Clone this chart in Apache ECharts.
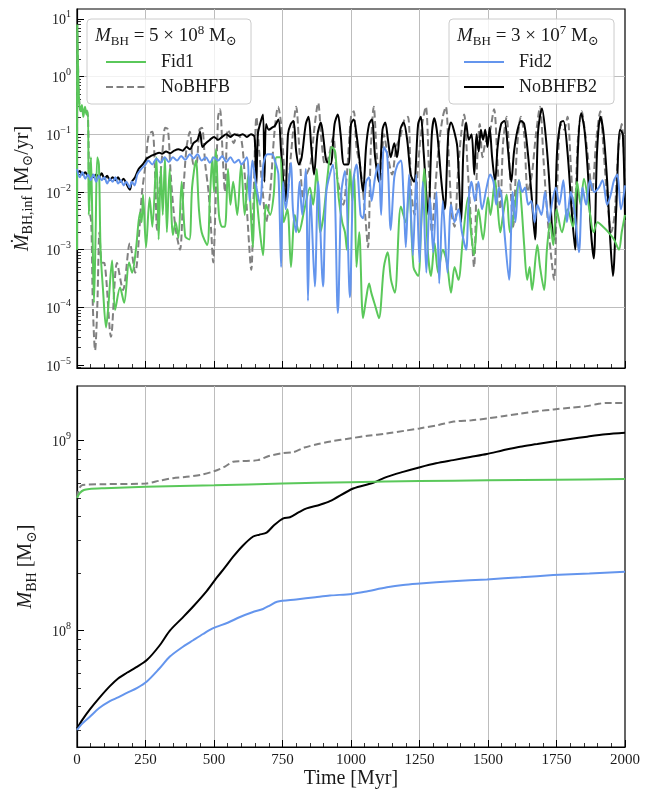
<!DOCTYPE html>
<html>
<head>
<meta charset="utf-8">
<script src="https://cdn.jsdelivr.net/npm/echarts@6/dist/echarts.min.js"></script>
<style>
  html, body { margin: 0; padding: 0; background: #ffffff; }
  #chart { width: 653px; height: 792px; }
</style>
</head>
<body>
<div id="chart"></div>
<script>
// Accretion rate onto the black hole [Msun/yr] versus time [Myr], as [time, rate].
const fid1Rate = [
  [0,1e-3],[1,8],[4,1.2],[8,0.35],[13,0.25],[18,0.32],[23,0.2],[29,0.3],[35,0.22],[40,0.25],
  [43,4e-3],[47,1e-2],[51,4e-2],[56,3e-3],[62,1.2e-4],[68,2e-3],[74,4e-2],[80,3e-2],[86,1e-3],
  [95,2e-4],[106,4.5e-5],[114,1e-4],[128,6.5e-4],[139,9e-5],[157,2.2e-4],[172,1.2e-4],[190,6e-4],
  [201,4e-4],[215,1e-3],[230,4.4e-3],[236,3e-3],[241,9e-3],[252,1.1e-3],[265,8e-3],[275,2.5e-3],
  [290,4e-2],[298,1.5e-3],[306,2.7e-2],[313,4e-3],[321,4e-2],[328,2e-3],[338,2.5e-2],[350,1.8e-3],
  [360,3e-3],[370,1.6e-3],[382,1.5e-2],[395,1.7e-3],[410,1.5e-3],[420,1.2e-2],[434,3.5e-2],
  [445,5e-3],[455,2e-3],[475,1.2e-3],[485,8e-3],[494,4e-2],[500,1e-2],[507,5.5e-2],[518,4e-3],
  [530,2.5e-3],[540,2.5e-3],[551,2.5e-2],[560,6e-3],[570,1.5e-2],[585,4e-3],[599,3e-2],[612,4e-3],
  [625,2e-2],[642,1.1e-3],[650,1.5e-2],[664,3e-3],[679,8e-4],[690,6e-3],[705,4e-3],[718,9e-3],
  [728,4e-2],[741,4e-2],[755,3e-3],[768,5e-3],[781,5e-4],[795,4e-3],[810,2e-3],[830,5e-3],
  [850,1.2e-2],[862,6e-3],[875,2.5e-2],[888,2e-3],[900,4e-3],[915,2e-2],[930,6e-2],[942,5e-2],
  [955,8e-3],[968,3e-3],[978,2e-3],[985,1e-3],[996,2.5e-2],[1005,7e-3],[1012,2e-2],[1020,5e-4],
  [1030,2e-3],[1044,6.5e-5],[1056,1.5e-4],[1066,2.6e-4],[1074,1.8e-4],[1090,1e-4],[1102,6.5e-5],
  [1120,5e-4],[1134,9e-4],[1146,3e-4],[1160,1.8e-4],[1182,5.6e-3],[1200,3e-3],[1212,1.2e-2],
  [1228,5e-4],[1245,3.5e-4],[1255,2e-3],[1267,2.5e-2],[1280,1e-3],[1292,3.5e-4],[1305,1.3e-3],
  [1318,4e-4],[1335,1e-3],[1350,6e-4],[1365,1.8e-4],[1378,5e-4],[1392,3e-4],[1408,1.5e-3],
  [1427,8e-3],[1438,2e-3],[1449,8e-4],[1465,5e-3],[1482,1.5e-3],[1500,8e-3],[1509,4e-3],
  [1526,1.6e-2],[1532,9e-3],[1545,2e-3],[1555,4e-3],[1568,9e-3],[1580,2e-3],[1590,3e-3],
  [1613,1.6e-2],[1622,6e-3],[1632,1.2e-3],[1643,3e-4],[1652,5e-4],[1661,2e-4],[1680,1.2e-3],
  [1690,5e-4],[1705,2e-4],[1715,1e-3],[1727,3e-3],[1738,1.2e-3],[1750,5e-3],[1770,2e-3],
  [1790,5e-3],[1810,2.5e-3],[1825,1.5e-2],[1838,6e-3],[1850,1.7e-2],[1870,5e-3],[1885,2e-3],
  [1900,3e-3],[1920,2.5e-3],[1940,2e-3],[1960,1.5e-3],[1978,1e-3],[1988,2e-3],[2000,4e-3]
];

const noBhfbRate = [
  [0,1e-3],[1,6],[5,1],[10,0.3],[20,0.25],[30,0.28],[40,0.2],[45,5e-3],[52,3e-3],[58,1e-4],
  [66,1.8e-5],[74,1e-4],[82,2e-3],[90,6e-4],[100,5.9e-4],[124,3.1e-5],[146,5.9e-4],[168,2e-4],
  [193,1.3e-3],[212,4e-4],[237,9.5e-3],[250,3e-2],[262,0.1],[275,0.11],[285,2e-2],[292,2.2e-3],
  [300,1e-2],[312,5e-2],[322,0.13],[332,0.12],[342,2e-2],[352,5e-3],[362,2e-3],[376,1e-3],
  [388,1e-2],[400,6e-2],[412,0.11],[425,3e-2],[435,3e-2],[447,0.12],[456,0.13],[468,3e-2],
  [480,1e-2],[490,2e-3],[497,6e-4],[505,5e-3],[515,0.2],[522,0.27],[532,4e-2],[540,1e-2],
  [550,0.12],[560,0.1],[572,7e-2],[585,0.1],[600,8e-2],[612,2e-2],[620,5e-3],[636,4.5e-4],
  [645,1e-2],[655,0.2],[665,5e-2],[678,1e-2],[690,3e-3],[705,1e-2],[720,0.1],[734,0.3],
  [745,0.15],[755,3e-2],[765,7e-3],[780,4e-2],[800,0.3],[812,5e-2],[825,8e-3],[838,2e-2],
  [852,3e-2],[868,0.15],[880,0.35],[892,8e-2],[905,3e-2],[918,4e-2],[935,9e-2],[948,2e-2],
  [960,1e-2],[972,6e-3],[985,2e-2],[1000,0.2],[1010,0.25],[1020,6e-2],[1035,2.5e-2],[1050,5e-3],
  [1062,1.1e-3],[1072,5e-2],[1083,0.3],[1095,4e-2],[1108,1.5e-2],[1120,0.1],[1135,4e-2],
  [1150,2e-2],[1165,6e-2],[1180,9e-2],[1195,0.18],[1208,0.2],[1220,1e-2],[1232,4e-3],[1245,3e-2],
  [1260,0.15],[1273,0.3],[1285,2e-2],[1295,2e-3],[1305,8e-3],[1320,6e-2],[1335,0.2],[1346,0.3],
  [1358,3e-2],[1368,4e-3],[1378,2.5e-3],[1390,2e-2],[1402,0.1],[1413,0.22],[1425,3e-2],
  [1438,3e-3],[1449,5e-4],[1460,3e-2],[1470,0.15],[1480,4e-2],[1490,7e-2],[1505,0.1],[1522,0.27],
  [1535,3e-2],[1545,5e-3],[1555,7e-2],[1568,0.2],[1580,2e-2],[1592,2.5e-3],[1605,5e-2],[1620,0.2],
  [1632,0.1],[1645,1e-2],[1660,2e-2],[1675,0.1],[1690,0.3],[1702,4e-2],[1715,5e-3],[1728,1e-3],
  [1741,3e-4],[1752,1e-2],[1765,0.15],[1778,0.12],[1790,0.2],[1802,3e-2],[1815,3e-3],[1828,8e-2],
  [1842,0.25],[1855,0.1],[1868,3e-2],[1880,1e-2],[1895,8e-2],[1910,0.25],[1922,5e-2],[1935,8e-3],
  [1950,2e-3],[1962,4e-3],[1975,5e-2],[1988,0.15],[2000,1.5e-2]
];

const fid2Rate = [
  [0,2.5e-2],[10,1.8e-2],[20,2.2e-2],[30,1.7e-2],[40,2e-2],[50,1.6e-2],[60,2e-2],[70,1.5e-2],
  [80,1.9e-2],[90,1.6e-2],[100,1.8e-2],[110,1.4e-2],[120,1.7e-2],[130,1.5e-2],[140,1.8e-2],
  [150,1.4e-2],[160,1.6e-2],[170,1.3e-2],[180,1.5e-2],[192,1.2e-2],[200,1.5e-2],[210,1.3e-2],
  [220,2e-2],[235,2.5e-2],[250,3e-2],[260,3.5e-2],[275,3e-2],[290,3.8e-2],[305,3.2e-2],[320,4e-2],
  [335,3.3e-2],[350,4e-2],[365,3.5e-2],[380,4.2e-2],[395,3.6e-2],[412,4.5e-2],[425,3.8e-2],
  [440,4.5e-2],[455,3.5e-2],[470,4e-2],[485,3.2e-2],[500,4e-2],[515,3.5e-2],[530,4.2e-2],
  [545,3.3e-2],[560,4e-2],[575,3.2e-2],[590,3.6e-2],[600,3e-2],[620,4e-2],[630,7e-3],[640,3.5e-2],
  [655,1.2e-2],[668,6e-3],[680,3e-2],[695,4.5e-2],[712,4.5e-2],[722,3.5e-2],[735,2e-2],[745,5e-4],
  [752,1.5e-2],[762,5e-3],[781,3.2e-2],[788,5e-3],[800,2e-3],[812,1.5e-2],[822,4e-3],[835,2.5e-2],
  [843,1.3e-4],[852,9e-3],[868,2.3e-4],[880,1.5e-2],[898,2.3e-4],[910,1e-2],[934,3e-2],[952,8e-5],
  [965,1e-2],[978,2.3e-2],[996,1.5e-4],[1008,1.5e-2],[1020,3e-2],[1035,4e-3],[1044,3.5e-3],
  [1055,1.5e-2],[1066,1.8e-2],[1075,7e-3],[1088,1.8e-2],[1100,3e-2],[1110,4e-3],[1120,6e-2],
  [1132,4.5e-2],[1145,2.2e-3],[1158,1.8e-2],[1170,3e-2],[1182,3.5e-2],[1192,8e-3],[1200,1.1e-3],
  [1212,2e-2],[1226,8e-4],[1238,2e-2],[1250,6e-4],[1262,1.5e-2],[1275,4e-4],[1288,8e-3],
  [1300,9e-4],[1312,1e-2],[1322,2.6e-4],[1335,7e-3],[1352,4e-4],[1365,6e-3],[1378,3e-3],
  [1392,5e-3],[1405,2e-3],[1420,1e-3],[1430,8e-3],[1440,1.5e-2],[1452,7e-3],[1465,1.5e-2],
  [1478,5e-3],[1495,1.2e-2],[1508,2e-2],[1520,1.5e-2],[1530,6e-3],[1540,1.2e-2],[1550,8e-3],
  [1560,2e-3],[1577,3e-4],[1590,1e-2],[1600,3e-3],[1613,1.6e-2],[1625,1e-2],[1635,1.2e-2],
  [1647,6e-3],[1658,7e-3],[1670,3e-3],[1680,6e-3],[1695,4e-3],[1708,1e-2],[1722,3e-3],[1735,7e-3],
  [1748,1.2e-2],[1760,6e-3],[1775,1.6e-2],[1788,3e-3],[1802,1e-2],[1815,5e-3],[1832,9e-4],
  [1845,1.2e-2],[1858,6e-3],[1872,1.6e-2],[1888,1e-2],[1905,1.2e-2],[1918,1.6e-2],[1935,6e-3],
  [1948,9e-3],[1960,1.6e-2],[1972,2e-2],[1985,5e-3],[2000,1.3e-2]
];

const noBhfb2Rate = [
  [0,2e-2],[10,2.3e-2],[20,2e-2],[30,2.2e-2],[40,1.9e-2],[50,2.1e-2],[60,1.8e-2],[70,2e-2],
  [80,1.8e-2],[90,2.1e-2],[100,1.7e-2],[110,1.9e-2],[120,1.6e-2],[130,1.8e-2],[140,1.6e-2],
  [150,1.8e-2],[160,1.5e-2],[170,1.7e-2],[180,1.4e-2],[193,1.1e-2],[200,1.5e-2],[212,1.8e-2],
  [225,2.5e-2],[240,3e-2],[255,3.8e-2],[270,4.2e-2],[285,4.5e-2],[300,4.8e-2],[310,4.6e-2],
  [325,5e-2],[340,4.7e-2],[355,5.2e-2],[370,5.5e-2],[385,5.2e-2],[400,6e-2],[412,5.5e-2],
  [425,7e-2],[440,8e-2],[449,0.11],[458,6e-2],[470,7e-2],[485,8e-2],[500,9e-2],[515,8e-2],
  [530,9e-2],[545,0.1],[560,9e-2],[575,0.1],[590,9.5e-2],[605,0.1],[620,9e-2],[635,0.1],
  [648,9e-2],[654,1.2e-2],[660,0.1],[668,0.15],[679,0.22],[684,1.5e-2],[690,0.15],[700,0.12],
  [712,0.13],[722,0.14],[735,0.18],[745,5e-2],[760,7e-3],[770,0.1],[780,0.15],[790,0.17],
  [800,5e-2],[810,3e-2],[820,4e-2],[835,0.15],[845,0.2],[855,6e-2],[865,2e-2],[878,0.1],
  [890,0.16],[900,8e-2],[910,3.5e-2],[925,3e-2],[940,0.15],[952,0.22],[962,0.1],[975,3e-2],
  [990,3e-2],[1000,0.15],[1010,0.18],[1020,0.1],[1030,4e-2],[1044,1e-2],[1055,6e-2],[1066,0.15],
  [1076,0.18],[1088,4e-2],[1102,1.5e-2],[1115,0.12],[1125,0.16],[1135,8e-2],[1145,4e-2],
  [1158,7e-2],[1168,4e-2],[1180,0.12],[1192,0.16],[1205,8e-2],[1218,2e-2],[1230,1.5e-2],
  [1245,0.15],[1255,0.2],[1265,5e-2],[1282,4e-3],[1295,0.1],[1304,0.19],[1315,0.1],[1330,1.5e-2],
  [1342,5e-3],[1355,0.1],[1365,0.16],[1375,0.12],[1388,6e-2],[1402,3e-3],[1410,5e-2],[1420,0.16],
  [1430,8e-2],[1440,0.1],[1450,2e-2],[1458,0.1],[1466,5e-2],[1474,0.12],[1482,8e-2],[1490,0.12],
  [1498,6e-2],[1506,0.13],[1515,4e-2],[1526,1.5e-2],[1535,6e-2],[1548,0.15],[1560,0.17],
  [1572,6e-2],[1585,1.5e-2],[1595,5e-2],[1608,0.12],[1620,0.17],[1632,0.15],[1645,5e-2],
  [1658,1e-2],[1672,1.5e-3],[1682,0.1],[1697,0.28],[1710,0.1],[1722,2e-2],[1735,2e-3],
  [1741,1.5e-3],[1752,5e-2],[1765,0.16],[1775,0.17],[1790,5e-2],[1805,5e-3],[1818,1e-3],
  [1828,5e-2],[1840,0.23],[1852,0.12],[1865,2e-2],[1876,2e-3],[1886,7e-4],[1898,5e-2],[1910,0.2],
  [1922,0.1],[1935,1.5e-2],[1946,1.5e-3],[1956,3.5e-4],[1968,5e-3],[1982,0.12],[1992,0.1],
  [2000,3.3e-3]
];

// Black hole mass [Msun] versus time [Myr], as [time, mass].
const fid1Mass = [
  [0,5.0e8],[10,5.3e8],[25,5.5e8],[45,5.57e8],[100,5.62e8],[250,5.72e8],[500,5.82e8],
  [750,5.95e8],[1000,6.05e8],[1250,6.13e8],[1500,6.18e8],[1750,6.23e8],[2000,6.28e8]
];

const noBhfbMass = [
  [0,5.0e8],[8,5.6e8],[20,5.85e8],[100,5.9e8],[250,5.95e8],[300,6.15e8],[350,6.35e8],
  [400,6.45e8],[450,6.6e8],[500,6.9e8],[540,7.3e8],[570,7.75e8],[600,7.8e8],[660,7.9e8],
  [700,8.3e8],[750,8.6e8],[790,8.7e8],[830,9.2e8],[880,9.6e8],[925,9.9e8],[1000,1.03e9],
  [1060,1.06e9],[1130,1.09e9],[1200,1.13e9],[1250,1.16e9],[1320,1.21e9],[1375,1.26e9],
  [1440,1.28e9],[1500,1.31e9],[1560,1.35e9],[1620,1.39e9],[1680,1.43e9],[1740,1.46e9],
  [1800,1.49e9],[1860,1.52e9],[1900,1.56e9],[1930,1.58e9],[2000,1.58e9]
];

const fid2Mass = [
  [0,3.0e7],[20,3.25e7],[47,3.52e7],[80,3.9e7],[120,4.25e7],[150,4.45e7],[182,4.7e7],
  [220,5.0e7],[255,5.4e7],[300,6.3e7],[339,7.3e7],[380,8.1e7],[424,8.9e7],[460,9.6e7],
  [497,1.03e8],[550,1.1e8],[595,1.18e8],[640,1.25e8],[679,1.3e8],[705,1.36e8],[730,1.42e8],
  [800,1.46e8],[870,1.5e8],[923,1.53e8],[1003,1.56e8],[1050,1.6e8],[1131,1.69e8],[1190,1.74e8],
  [1252,1.77e8],[1370,1.82e8],[1496,1.86e8],[1620,1.91e8],[1738,1.96e8],[1870,2.0e8],[2000,2.04e8]
];

const noBhfb2Mass = [
  [0,3.05e7],[20,3.4e7],[47,3.85e7],[80,4.4e7],[120,5.1e7],[150,5.6e7],[182,6.0e7],[215,6.4e7],
  [255,7.0e7],[300,8.3e7],[339,1.0e8],[380,1.15e8],[424,1.34e8],[474,1.62e8],[510,1.9e8],
  [540,2.15e8],[570,2.45e8],[605,2.8e8],[643,3.13e8],[665,3.2e8],[692,3.28e8],[720,3.6e8],
  [753,3.9e8],[777,3.95e8],[810,4.2e8],[838,4.4e8],[887,4.6e8],[923,4.8e8],[1008,5.6e8],
  [1081,6.0e8],[1131,6.45e8],[1190,6.85e8],[1252,7.25e8],[1310,7.6e8],[1373,7.9e8],[1435,8.2e8],
  [1496,8.5e8],[1555,8.9e8],[1617,9.3e8],[1680,9.6e8],[1738,9.9e8],[1800,1.02e9],[1862,1.05e9],
  [1930,1.08e9],[2000,1.1e9]
];

// Axis ranges and labelled decades.
const timeRange = [0, 2000];
const timeInterval = 250;
const rateRange = [8.9e-6, 14.8];
const rateDecades = [1e-5, 1e-4, 1e-3, 1e-2, 1e-1, 1, 10];
const massRange = [2.44e7, 1.94e9];
const massDecades = [1e8, 1e9];

const SERIF = '"Liberation Serif", "DejaVu Serif", serif';
const INK = '#1a1a1a';
const GREEN = '#5ac85a';
const BLUE = '#6495ed';
const GREY = '#808080';
const BLACK = '#000000';
const CLEAR = 'rgba(0,0,0,0)';

// Minor log ticks at 2..9 x 10^k inside a range.
function minorLogTicks(range) {
  const out = [];
  for (let k = -7; k <= 10; k++) {
    for (let m = 2; m <= 9; m++) {
      const v = m * Math.pow(10, k);
      if (v > range[0] && v < range[1]) out.push(v);
    }
  }
  return out;
}

function decadeLabel(value) {
  const e = Math.round(Math.log10(value));
  const txt = e < 0 ? '\u2212' + Math.abs(e) : String(e);
  return '{b|10}{s|' + txt + '}';
}

const decadeRich = {
  b: { fontFamily: SERIF, fontSize: 14, fontWeight: 'normal', color: INK, lineHeight: 18, verticalAlign: 'bottom' },
  s: { fontFamily: SERIF, fontSize: 10, fontWeight: 'normal', color: INK, lineHeight: 10, verticalAlign: 'top' }
};

const nameRich = {
  i: { fontFamily: SERIF, fontSize: 20, fontWeight: 'normal', fontStyle: 'italic', color: INK, lineHeight: 26 },
  n: { fontFamily: SERIF, fontSize: 20, fontWeight: 'normal', color: INK, lineHeight: 26 },
  sub: { fontFamily: SERIF, fontSize: 14, fontWeight: 'normal', color: INK, lineHeight: 14, verticalAlign: 'bottom' }
};

function timeAxis(gridIndex, showLabels) {
  return {
    type: 'value', gridIndex: gridIndex,
    min: timeRange[0], max: timeRange[1], interval: timeInterval,
    axisLine: { show: true, lineStyle: { color: BLACK, width: 1.2 } },
    axisTick: { show: true, inside: true, length: 7, lineStyle: { color: BLACK, width: 1 } },
    minorTick: { show: true, splitNumber: 5, length: 4, lineStyle: { color: BLACK, width: 0.8 } },
    splitLine: { show: true, showMinLine: false, showMaxLine: false, lineStyle: { color: '#bdbdbd', width: 1 } },
    axisLabel: {
      show: showLabels, fontFamily: SERIF, fontSize: 15, color: INK, margin: 6,
      formatter: function (v) { return String(v); }
    },
    name: showLabels ? 'Time [Myr]' : '',
    nameLocation: 'middle', nameGap: 20,
    nameTextStyle: { fontFamily: SERIF, fontSize: 20, color: INK }
  };
}

function logAxisMajor(gridIndex, range, decades, name, gap) {
  return {
    type: 'log', logBase: 10, gridIndex: gridIndex,
    min: range[0], max: range[1],
    axisLine: { show: true, lineStyle: { color: BLACK, width: 1.2 } },
    axisTick: { show: true, inside: true, length: 7, customValues: decades, lineStyle: { color: BLACK, width: 1 } },
    splitLine: { show: true, showMinLine: false, showMaxLine: false, lineStyle: { color: '#bdbdbd', width: 1 } },
    axisLabel: { show: true, customValues: decades, margin: 6, formatter: decadeLabel, rich: decadeRich },
    name: name, nameLocation: 'middle', nameGap: gap,
    nameTextStyle: { rich: nameRich }
  };
}

function logAxisMinor(gridIndex, range) {
  return {
    type: 'log', logBase: 10, gridIndex: gridIndex, position: 'left',
    min: range[0], max: range[1],
    axisLine: { show: false },
    axisTick: { show: true, inside: true, length: 4, customValues: minorLogTicks(range), lineStyle: { color: BLACK, width: 0.8 } },
    splitLine: { show: false },
    axisLabel: { show: false }
  };
}

function lineSeries(name, data, xi, yi, color, dashed, z) {
  return {
    name: name, type: 'line', data: data,
    xAxisIndex: xi, yAxisIndex: yi,
    showSymbol: false, symbol: 'none', smooth: 0.3,
    animation: false, z: z,
    lineStyle: { color: color, width: 2, type: dashed ? [7, 3.5] : 'solid' },
    itemStyle: { color: color }
  };
}

function headingText(mantissa, exponent) {
  return '{i|M}{sub|BH}{n| = ' + mantissa + ' \u00d7 10}{sup|' + exponent + '}{n| M}{sub|\u2299}';
}

const headingRich = {
  i: { fontFamily: SERIF, fontSize: 19, fontWeight: 'normal', fontStyle: 'italic', color: INK, lineHeight: 24 },
  n: { fontFamily: SERIF, fontSize: 19, fontWeight: 'normal', color: INK, lineHeight: 24 },
  sub: { fontFamily: SERIF, fontSize: 13, fontWeight: 'normal', color: INK, lineHeight: 13, verticalAlign: 'bottom' },
  sup: { fontFamily: SERIF, fontSize: 13, fontWeight: 'normal', color: INK, lineHeight: 13, verticalAlign: 'top' }
};

const legendBase = {
  orient: 'vertical', top: 19,
  itemWidth: 40, itemHeight: 14, itemGap: 7,
  backgroundColor: 'rgba(255,255,255,0.8)', borderColor: '#cccccc', borderWidth: 1, borderRadius: 4,
  selectedMode: false,
  itemStyle: { color: CLEAR, borderColor: CLEAR, borderWidth: 0, opacity: 0 },
  textStyle: { fontFamily: SERIF, fontSize: 18, color: INK, padding: [0, 0, 0, 10] }
};

const chart = echarts.init(document.getElementById('chart'), null, { renderer: 'canvas' });

chart.setOption({
  backgroundColor: '#ffffff',
  animation: false,
  grid: [
    { left: 77, top: 9, width: 548, height: 359, show: true, borderColor: BLACK, borderWidth: 1.2, containLabel: false },
    { left: 77, top: 386, width: 548, height: 361, show: true, borderColor: BLACK, borderWidth: 1.2, containLabel: false }
  ],
  title: [
    { text: headingText('5', '8'), left: 95, top: 24, padding: 0, textStyle: { fontWeight: 'normal', rich: headingRich }, z: 10 },
    { text: headingText('3', '7'), left: 457, top: 24, padding: 0, textStyle: { fontWeight: 'normal', rich: headingRich }, z: 10 }
  ],
  legend: [
    Object.assign({}, legendBase, { data: ['Fid1', 'NoBHFB'], left: 87, padding: [34, 21, 8, 18] }),
    Object.assign({}, legendBase, { data: ['Fid2', 'NoBHFB2'], left: 449, padding: [34, 17, 8, 14] })
  ],
  xAxis: [timeAxis(0, false), timeAxis(1, true)],
  yAxis: [
    logAxisMajor(0, rateRange, rateDecades, '{i|\u1e40}{sub|BH,inf}{n| [M}{sub|\u2299}{n|/yr]}', 38),
    logAxisMinor(0, rateRange),
    logAxisMajor(1, massRange, massDecades, '{i|M}{sub|BH}{n| [M}{sub|\u2299}{n|]}', 38),
    logAxisMinor(1, massRange)
  ],
  series: [
    lineSeries('NoBHFB', noBhfbRate, 0, 0, GREY, true, 2),
    lineSeries('NoBHFB2', noBhfb2Rate, 0, 0, BLACK, false, 3),
    lineSeries('Fid1', fid1Rate, 0, 0, GREEN, false, 4),
    lineSeries('Fid2', fid2Rate, 0, 0, BLUE, false, 5),
    lineSeries('NoBHFB', noBhfbMass, 1, 2, GREY, true, 2),
    lineSeries('NoBHFB2', noBhfb2Mass, 1, 2, BLACK, false, 3),
    lineSeries('Fid1', fid1Mass, 1, 2, GREEN, false, 4),
    lineSeries('Fid2', fid2Mass, 1, 2, BLUE, false, 5)
  ]
});
</script>
</body>
</html>
